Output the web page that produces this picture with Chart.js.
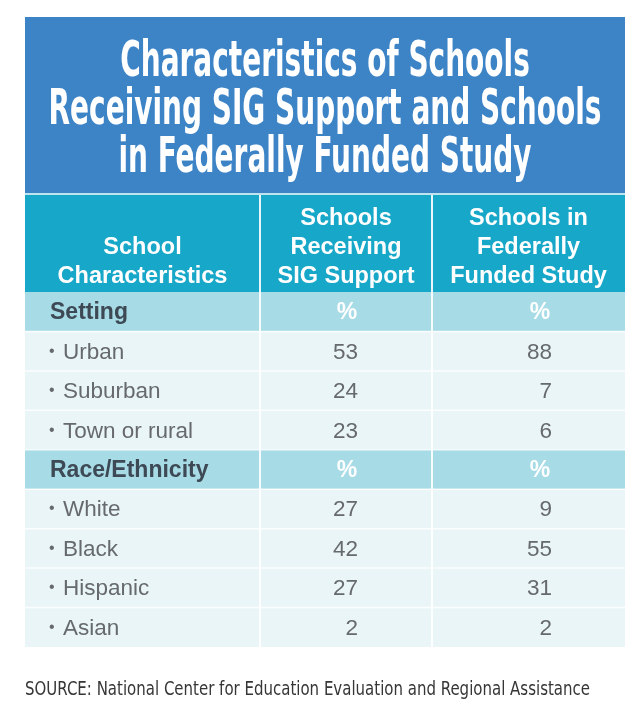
<!DOCTYPE html>
<html>
<head>
<meta charset="utf-8">
<script src="https://cdn.jsdelivr.net/npm/chart.js@4"></script>
<style>
  html, body { margin: 0; padding: 0; background: #ffffff; }
  #wrap { width: 644px; height: 726px; }
</style>
</head>
<body>
<div id="wrap"><canvas id="table"></canvas></div>
<script>
// --- DATA ---
const titleLines = ["Characteristics of Schools", "Receiving SIG Support and Schools", "in Federally Funded Study"];
const columnHeaders = [
    ["School", "Characteristics"],
    ["Schools", "Receiving", "SIG Support"],
    ["Schools in", "Federally", "Funded Study"]
];
const rowLabels = ["Setting", "Urban", "Suburban", "Town or rural", "Race/Ethnicity", "White", "Black", "Hispanic", "Asian"];
const sectionRows = [true, false, false, false, true, false, false, false, false];
const sigSupport = [null, 53, 24, 23, null, 27, 42, 27, 2];
const federalStudy = [null, 88, 7, 6, null, 9, 55, 31, 2];
const unitLabel = "%";
const sourceText = "SOURCE: National Center for Education Evaluation and Regional Assistance";

// --- LAYOUT (x scale runs 0..600 across the table) ---
const colEdges = [0, 235, 407, 600];
const numRight = [null, 333, 527];   // right edge of the numbers in each value column
const unitCenter = [null, 322, 515];

// Colors
const colors = {
    titleBg: '#3d84c7', headerBg: '#17a7c8', sectionBg: '#a7dbe6', rowBg: '#eaf5f8',
    divider: 'rgba(255,255,255,0.9)', sectionText: '#3d4954', rowText: '#66696d', source: '#363636'
};

const valueColumns = [null, sigSupport, federalStudy];

// one floating bar per column = the cell backgrounds
const datasets = [0, 1, 2].map(c => ({
    label: 'col' + c,
    data: rowLabels.map(() => [colEdges[c], colEdges[c + 1]]),
    backgroundColor: sectionRows.map(s => s ? colors.sectionBg : colors.rowBg),
    borderWidth: 0,
    grouped: false,
    barPercentage: 1,
    categoryPercentage: 1
}));

function fitText(ctx, text, x, y, width) {
    const w = ctx.measureText(text).width;
    ctx.save();
    ctx.translate(x, y);
    ctx.scale(width / w, 1);
    ctx.fillText(text, 0, 0);
    ctx.restore();
}

const tablePlugin = {
    id: 'tablePlugin',
    beforeDatasetsDraw(chart) {
        const { ctx, chartArea } = chart;
        const x = chart.scales.x;
        const left = x.getPixelForValue(colEdges[0]);
        const right = x.getPixelForValue(colEdges[3]);

        // title box
        ctx.save();
        ctx.fillStyle = colors.titleBg;
        ctx.fillRect(left, 17, right - left, 176);
        ctx.fillStyle = '#bfe4ee';
        ctx.fillRect(left, 193, right - left, 2);
        ctx.fillStyle = colors.headerBg;
        ctx.fillRect(left, 195, right - left, chartArea.top - 195);

        // title text, condensed
        ctx.fillStyle = '#ffffff';
        ctx.font = 'bold 50px "Liberation Sans Narrow", "DejaVu Sans Condensed", Roboto, sans-serif';
        ctx.textAlign = 'left';
        ctx.textBaseline = 'alphabetic';
        const sx = 553 / ctx.measureText(titleLines[1]).width;
        const cx = (left + right) / 2;
        titleLines.forEach((line, i) => {
            const w = ctx.measureText(line).width * sx;
            fitText(ctx, line, cx - w / 2, 76 + i * 48, w);
        });

        // column headers
        ctx.font = 'bold 23.5px "Liberation Sans", Arial, sans-serif';
        ctx.textAlign = 'center';
        columnHeaders.forEach((lines, c) => {
            const hx = x.getPixelForValue((colEdges[c] + colEdges[c + 1]) / 2);
            const start = 3 - lines.length;
            lines.forEach((t, k) => ctx.fillText(t, hx, 225 + (start + k) * 29));
        });
        ctx.restore();
    },
    afterDatasetsDraw(chart) {
        const { ctx, chartArea } = chart;
        const x = chart.scales.x;
        const y = chart.scales.y;
        const left = x.getPixelForValue(colEdges[0]);
        const right = x.getPixelForValue(colEdges[3]);
        ctx.save();

        // row separators
        ctx.strokeStyle = 'rgba(255,255,255,0.8)';
        ctx.lineWidth = 1.5;
        for (let i = 1; i < rowLabels.length; i++) {
            const yy = (y.getPixelForValue(i - 1) + y.getPixelForValue(i)) / 2;
            ctx.beginPath();
            ctx.moveTo(left, yy);
            ctx.lineTo(right, yy);
            ctx.stroke();
        }
        // column dividers
        ctx.strokeStyle = colors.divider;
        ctx.lineWidth = 2;
        [1, 2].forEach(c => {
            const xx = x.getPixelForValue(colEdges[c]);
            ctx.beginPath();
            ctx.moveTo(xx, 195);
            ctx.lineTo(xx, chartArea.bottom);
            ctx.stroke();
        });

        // cell text
        ctx.textBaseline = 'alphabetic';
        rowLabels.forEach((label, i) => {
            const yc = y.getPixelForValue(i) + 7.5;
            if (sectionRows[i]) {
                ctx.font = 'bold 23px "Liberation Sans", Arial, sans-serif';
                ctx.fillStyle = colors.sectionText;
                ctx.textAlign = 'left';
                ctx.fillText(label, left + 25, yc);
                ctx.fillStyle = '#ffffff';
                ctx.textAlign = 'center';
                [1, 2].forEach(c => ctx.fillText(unitLabel, x.getPixelForValue(unitCenter[c]), yc));
            } else {
                ctx.fillStyle = colors.rowText;
                ctx.textAlign = 'left';
                ctx.font = '16px "Liberation Sans", Arial, sans-serif';
                ctx.fillText('•', left + 24, yc - 3);
                ctx.font = '22.5px "Liberation Sans", Arial, sans-serif';
                ctx.fillText(label, left + 38, yc);
                ctx.textAlign = 'right';
                [1, 2].forEach(c => ctx.fillText(String(valueColumns[c][i]), x.getPixelForValue(numRight[c]), yc));
            }
        });

        // source line
        ctx.fillStyle = colors.source;
        ctx.textAlign = 'left';
        ctx.font = '19px "Liberation Sans Narrow", "DejaVu Sans Condensed", Roboto, sans-serif';
        fitText(ctx, sourceText, left, 695, 565);
        ctx.restore();
    }
};

new Chart(document.getElementById('table'), {
    type: 'bar',
    data: { labels: rowLabels, datasets: datasets },
    options: {
        indexAxis: 'y',
        responsive: true,
        maintainAspectRatio: false,
        animation: false,
        layout: { padding: { left: 25, right: 19, top: 292, bottom: 79 } },
        plugins: {
            legend: { display: false },
            tooltip: { enabled: false }
        },
        scales: {
            x: { type: 'linear', min: colEdges[0], max: colEdges[3], display: false },
            y: { type: 'category', display: false }
        }
    },
    plugins: [tablePlugin]
});
</script>
</body>
</html>
